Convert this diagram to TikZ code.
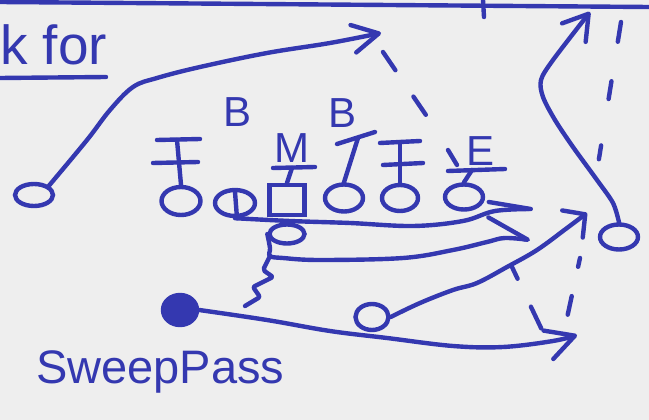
\documentclass[tikz,border=0pt]{standalone}
\usepackage{fontspec}
\setmainfont{Liberation Sans}
\usepackage{tikz}
\usetikzlibrary{shapes.geometric}
\usetikzlibrary{arrows.meta,positioning,calc}
\definecolor{ink}{RGB}{52,56,176}
\definecolor{paper}{RGB}{238,238,238}

\begin{document}
\begin{tikzpicture}[
    x=1pt, y=-1pt,
    every node/.style={text=ink},
    player/.style={
        draw=ink,
        line width=4.4pt,
        shape=ellipse,
        inner sep=0pt,
        minimum width=38pt,
        minimum height=26pt
    },
    snapper/.style={
        draw=ink,
        line width=4.4pt,
        shape=rectangle,
        inner sep=0pt,
        minimum width=35pt,
        minimum height=30pt
    },
    carrier/.style={
        player,
        fill=ink,
        minimum width=34pt,
        minimum height=30pt
    },
    letter/.style={
        font=\fontsize{42}{42}\selectfont,
        anchor=base,
        inner sep=0pt
    },
    inkline/.style={
        draw=ink,
        line width=4.4pt,
        line cap=round,
        line join=round
    },
    route/.style={
        inkline,
        -{Straight Barb[length=26pt,width=28pt,round]}
    },
    halfroute/.style={
        inkline,
        -{Straight Barb[harpoon,length=42pt,width=34pt,round]}
    },
    dashroute/.style={
        inkline,
        dash pattern=on 22pt off 32pt
    }
]

\fill[paper] (0,0) rectangle (649,420);
\useasboundingbox (0,0) rectangle (649,420);

% ==========================================================
% TITLE, FIELD LINE
% ==========================================================

\node[anchor=base west, font=\fontsize{55}{55}\selectfont, inner sep=0pt]
(lookfor) at (0,65) {k for};
\draw[inkline] (0,78) -- (106,77);

\draw[inkline] (0,2) -- (649,7);
\draw[inkline] (483,0) -- (484,17);

\node[anchor=base west, font=\fontsize{47}{47}\selectfont, inner sep=0pt]
(playname) at (36,383) {SweepPass};

% ==========================================================
% OFFENSE
% ==========================================================

\node[player, minimum width=38pt, minimum height=22pt] (wrL) at (34,195) {};
\node[player, minimum width=39pt, minimum height=28pt] (lt) at (181,201) {};
\node[player, minimum width=40pt, minimum height=26pt] (lg) at (235,203) {};
\node[snapper] (ctr) at (287,200) {};
\node[player, minimum width=35pt, minimum height=19pt] (qb) at (287,234) {};
\node[player, minimum width=38pt, minimum height=27pt] (rg) at (344,198) {};
\node[player, minimum width=36pt, minimum height=26pt] (rt) at (400,198) {};
\node[player, minimum width=38pt, minimum height=25pt] (te) at (464,197) {};
\node[player, minimum width=38pt, minimum height=25pt] (wrR) at (619,237) {};
\node[player, minimum width=33pt, minimum height=26pt] (hb) at (372,317) {};
\node[carrier] (sb) at (180,310) {};

\draw[inkline] ($(lg.north)+(0,4)$) -- ($(lg.south)+(2,0)$);

% ==========================================================
% DEFENSE
% ==========================================================

\node[letter] (b1) at (238,127) {B};
\node[letter] (b2) at (343,128) {B};
\node[letter] (mike) at (292,163) {M};
\node[letter] (end) at (481,166) {E};

% left tackle
\draw[inkline] (157,140) -- (200,139);
\draw[inkline] (153,163) -- (198,162);
\draw[inkline] (177,140) -- (lt.north);

% mike
\draw[inkline] (273,168) -- (315,167);
\draw[inkline] (292,168) -- (ctr.north);

% slanted mark
\draw[inkline] (337,144) -- (375,132);
\draw[inkline] (358,138) -- (rg.north);

% right tackle
\draw[inkline] (380,143) -- (420,141);
\draw[inkline] (383,165) -- (423,163);
\draw[inkline] (400,142) -- (rt.north);

% end
\draw[inkline] (448,150) -- (457,165);
\draw[inkline] (448,171) -- (505,169);
\draw[inkline] (472,170) -- (te.north);

% ==========================================================
% ROUTES
% ==========================================================

\coordinate (deepL) at (381,33);
\coordinate (deepR) at (590,12);
\coordinate (lgTip) at (533,209);
\coordinate (qbTurn) at (270,256);
\coordinate (qbTip) at (530,240);
\coordinate (hbTip) at (587,213);
\coordinate (sbTip) at (577,335);

\draw[route]
plot[smooth, tension=0.6] coordinates
{(wrL.north east) (87,140) (110,110) (133,87) (157,78) (200,67) (267,53) (330,43) (deepL)};

\draw[route, -{Straight Barb[length=24pt,width=30pt,round]}]
plot[smooth, tension=0.5] coordinates
{(wrR.north) (613,203) (597,180) (573,147) (555,120) (543,97) (541,80) (553,60) (deepR)};

\draw[halfroute, -{Straight Barb[harpoon,length=42pt,width=14pt,round]}]
plot[smooth, tension=0.6] coordinates
{(lg.south) (290,221) (350,223) (413,226) (463,221) (495,211) (lgTip)};

\draw[halfroute]
plot[smooth, tension=0.6] coordinates
{(qb.west) (270,248) (qbTurn) (283,258) (320,260) (403,258) (453,250) (487,242) (505,238) (qbTip)};

\draw[inkline, rounded corners=2pt]
(qbTurn) -- (263,270) -- (273,277) -- (253,287) -- (260,297) -- (245,306);

\draw[route, -{Straight Barb[length=16pt,width=34pt,round]}]
plot[smooth, tension=0.6] coordinates
{(hb.east) (420,303) (453,290) (477,283) (507,267) (537,250) (567,228) (hbTip)};

\draw[route, -{Straight Barb[length=28pt,width=30pt,round]}]
plot[smooth, tension=0.6] coordinates
{(sb.east) (267,320) (330,331) (387,338) (453,346) (503,347) (553,341) (sbTip)};

% reads
\coordinate (readA1) at (383,52);
\coordinate (readA2) at (428,118);
\draw[dashroute] (readA1) -- (readA2);

\coordinate (readB1) at (512,267);
\coordinate (readB2) at (542,330);
\draw[dashroute, dash pattern=on 13pt off 31pt on 24pt off 30pt] (readB1) -- (readB2);

\coordinate (readC1) at (580,258);
\coordinate (readC2) at (567,318);
\draw[dashroute, dash pattern=on 9pt off 30pt on 19pt off 20pt] (readC1) -- (readC2);

\coordinate (readD1) at (621,22);
\coordinate (readD2) at (597,171);
\draw[dashroute, dash pattern=on 20pt off 40pt on 18pt off 47pt on 14pt off 20pt] (readD1) -- (readD2);

\end{tikzpicture}
\end{document}
